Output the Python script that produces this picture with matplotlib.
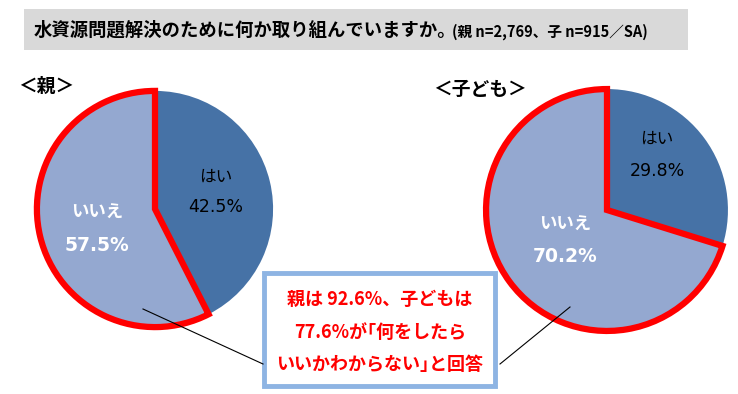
import matplotlib.pyplot as plt
from matplotlib.patches import Rectangle

plt.rcParams['font.family'] = ['Noto Sans CJK JP', 'DejaVu Sans']
NUM = ['DejaVu Sans', 'Noto Sans CJK JP']

labels = ['はい', 'いいえ']
parent_vals = [42.5, 57.5]
child_vals = [29.8, 70.2]
dark = '#4672A6'
light = '#94A8D0'

fig = plt.figure(figsize=(7.38, 3.94), dpi=100)
W, H = 738, 394

def pie_axes(cx, cy, r):
    return fig.add_axes([(cx - r) / W, (H - cy - r) / H, 2 * r / W, 2 * r / H])

def draw_pie(ax, vals):
    wedges, _ = ax.pie(vals, colors=[dark, light], startangle=90, counterclock=False,
                       wedgeprops=dict(linewidth=0))
    wedges[1].set_edgecolor('#FF0000')
    wedges[1].set_linewidth(4.5)
    wedges[1].set_joinstyle('miter')
    wedges[1].set_zorder(5)
    ax.set_xlim(-1.05, 1.05)
    ax.set_ylim(-1.05, 1.05)
    ax.axis('off')

ax1 = pie_axes(155, 209, 124)
draw_pie(ax1, parent_vals)
ax2 = pie_axes(607, 210, 127)
draw_pie(ax2, child_vals)

# overlay in pixel coords
ov = fig.add_axes([0, 0, 1, 1], zorder=10)
ov.set_xlim(0, W)
ov.set_ylim(H, 0)
ov.axis('off')
ov.patch.set_alpha(0)

ov.add_patch(Rectangle((24, 9), 664, 41, facecolor='#D9D9D9', edgecolor='none'))
ov.text(34, 30, '水資源問題解決のために何か取り組んでいますか。', fontsize=13.2, fontweight='bold',
        va='center', ha='left', color='#000000')
ov.text(452, 32, '(親 n=2,769、子 n=915／SA)', fontsize=10.5, fontweight='bold',
        va='center', ha='left', color='#000000')

ov.text(18, 86, '＜親＞', fontsize=13.5, fontweight='bold', va='center', ha='left')
ov.text(433, 89, '＜子ども＞', fontsize=13.5, fontweight='bold', va='center', ha='left')

ov.text(216, 177, labels[0], fontsize=12, va='center', ha='center', color='#000000')
ov.text(216, 207, f'{parent_vals[0]}%', fontsize=12.5, family=NUM, va='center', ha='center', color='#000000')
ov.text(97, 213, labels[1], fontsize=12.5, fontweight='bold', va='center', ha='center', color='white')
ov.text(97, 245, f'{parent_vals[1]}%', fontsize=13.5, family=NUM, fontweight='bold', va='center', ha='center', color='white')

ov.text(657, 139, labels[0], fontsize=12, va='center', ha='center', color='#000000')
ov.text(657, 171, f'{child_vals[0]}%', fontsize=12.5, family=NUM, va='center', ha='center', color='#000000')
ov.text(565, 225, labels[1], fontsize=12.5, fontweight='bold', va='center', ha='center', color='white')
ov.text(565, 257, f'{child_vals[1]}%', fontsize=13.5, family=NUM, fontweight='bold', va='center', ha='center', color='white')

# connector lines
ov.plot([143, 263], [309, 364], color='black', lw=0.8)
ov.plot([570, 500], [307, 364], color='black', lw=0.8)

# callout box
ov.add_patch(Rectangle((264, 273), 231, 113, facecolor='white', edgecolor='#8EB4E3', lw=3.5))
callout = ['親は 92.6%、子どもは', '77.6%が｢何をしたら', 'いいかわからない｣と回答']
for i, line in enumerate(callout):
    ov.text(380, 299 + i * 33, line, fontsize=13, fontweight='bold', color='#FF0000',
            va='center', ha='center')

fig.savefig('out.png', dpi=100)
